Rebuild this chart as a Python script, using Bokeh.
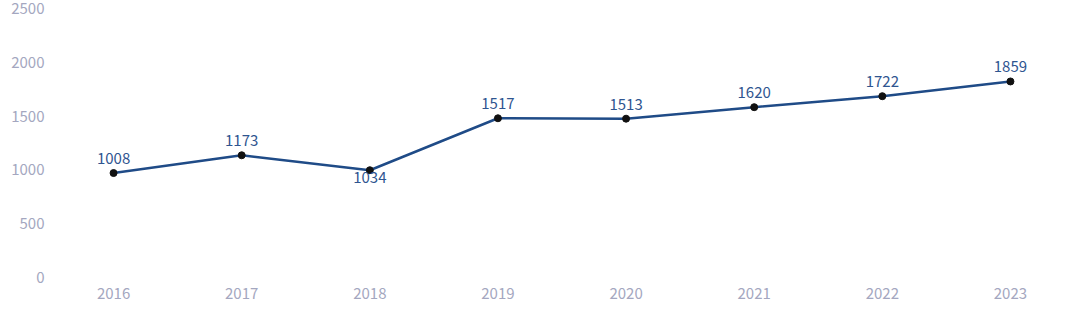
from bokeh.plotting import figure
from bokeh.models import ColumnDataSource, FactorRange, Range1d, FixedTicker, LinearAxis
from bokeh.core.properties import value
from bokeh.embed import file_html
from bokeh.resources import INLINE

years = ["2016", "2017", "2018", "2019", "2020", "2021", "2022", "2023"]
values = [1008, 1173, 1034, 1517, 1513, 1620, 1722, 1859]
labels = [str(v) for v in values]
below_years = ["2018"]
y_ticks = [0, 500, 1000, 1500, 2000, 2500]

FONT = "Noto Sans CJK SC"
AXIS_COLOR = "#a4a7c0"
LINE_COLOR = "#1f4b87"
LABEL_COLOR = "#2f5590"

p = figure(width=1080, height=322, x_range=FactorRange(*years),
           y_range=Range1d(0, 2537), output_backend="svg",
           toolbar_location=None, min_border_left=49, min_border_right=6,
           min_border_top=8, min_border_bottom=41)
p.outline_line_color = None
p.grid.grid_line_color = None
p.yaxis.visible = False

# tick labels in the reference sit slightly above their value positions
p.extra_y_ranges = {"ticks": Range1d(-37, 2500)}
yax = LinearAxis(y_range_name="ticks", ticker=FixedTicker(ticks=y_ticks))
p.add_layout(yax, "left")

src = ColumnDataSource(dict(x=years, y=values, t=labels))
p.line("x", "y", source=src, line_color=LINE_COLOR, line_width=2.5)
p.scatter("x", "y", source=src, size=7, fill_color="#111111", line_color="#111111")

above = [i for i, y in enumerate(years) if y not in below_years]
below = [i for i, y in enumerate(years) if y in below_years]
src_a = ColumnDataSource(dict(x=[years[i] for i in above], y=[values[i] for i in above], t=[labels[i] for i in above]))
src_b = ColumnDataSource(dict(x=[years[i] for i in below], y=[values[i] for i in below], t=[labels[i] for i in below]))
p.text("x", "y", text="t", source=src_a, text_align="center", text_baseline="bottom",
       y_offset=-9, text_font=value(FONT), text_font_size="15px", text_color=LABEL_COLOR)
p.text("x", "y", text="t", source=src_b, text_align="center", text_baseline="top",
       y_offset=2, text_font=value(FONT), text_font_size="15px", text_color=LABEL_COLOR)

for ax in (p.xaxis[0], yax):
    ax.axis_line_color = None
    ax.major_tick_line_color = None
    ax.minor_tick_line_color = None
    ax.major_tick_out = 0
    ax.major_tick_in = 0
    ax.major_label_text_font = FONT
    ax.major_label_text_font_size = "15px"
    ax.major_label_text_color = AXIS_COLOR
yax.major_label_standoff = 5
p.xaxis.major_label_standoff = 6

open("out.html", "w").write(file_html(p, INLINE))
